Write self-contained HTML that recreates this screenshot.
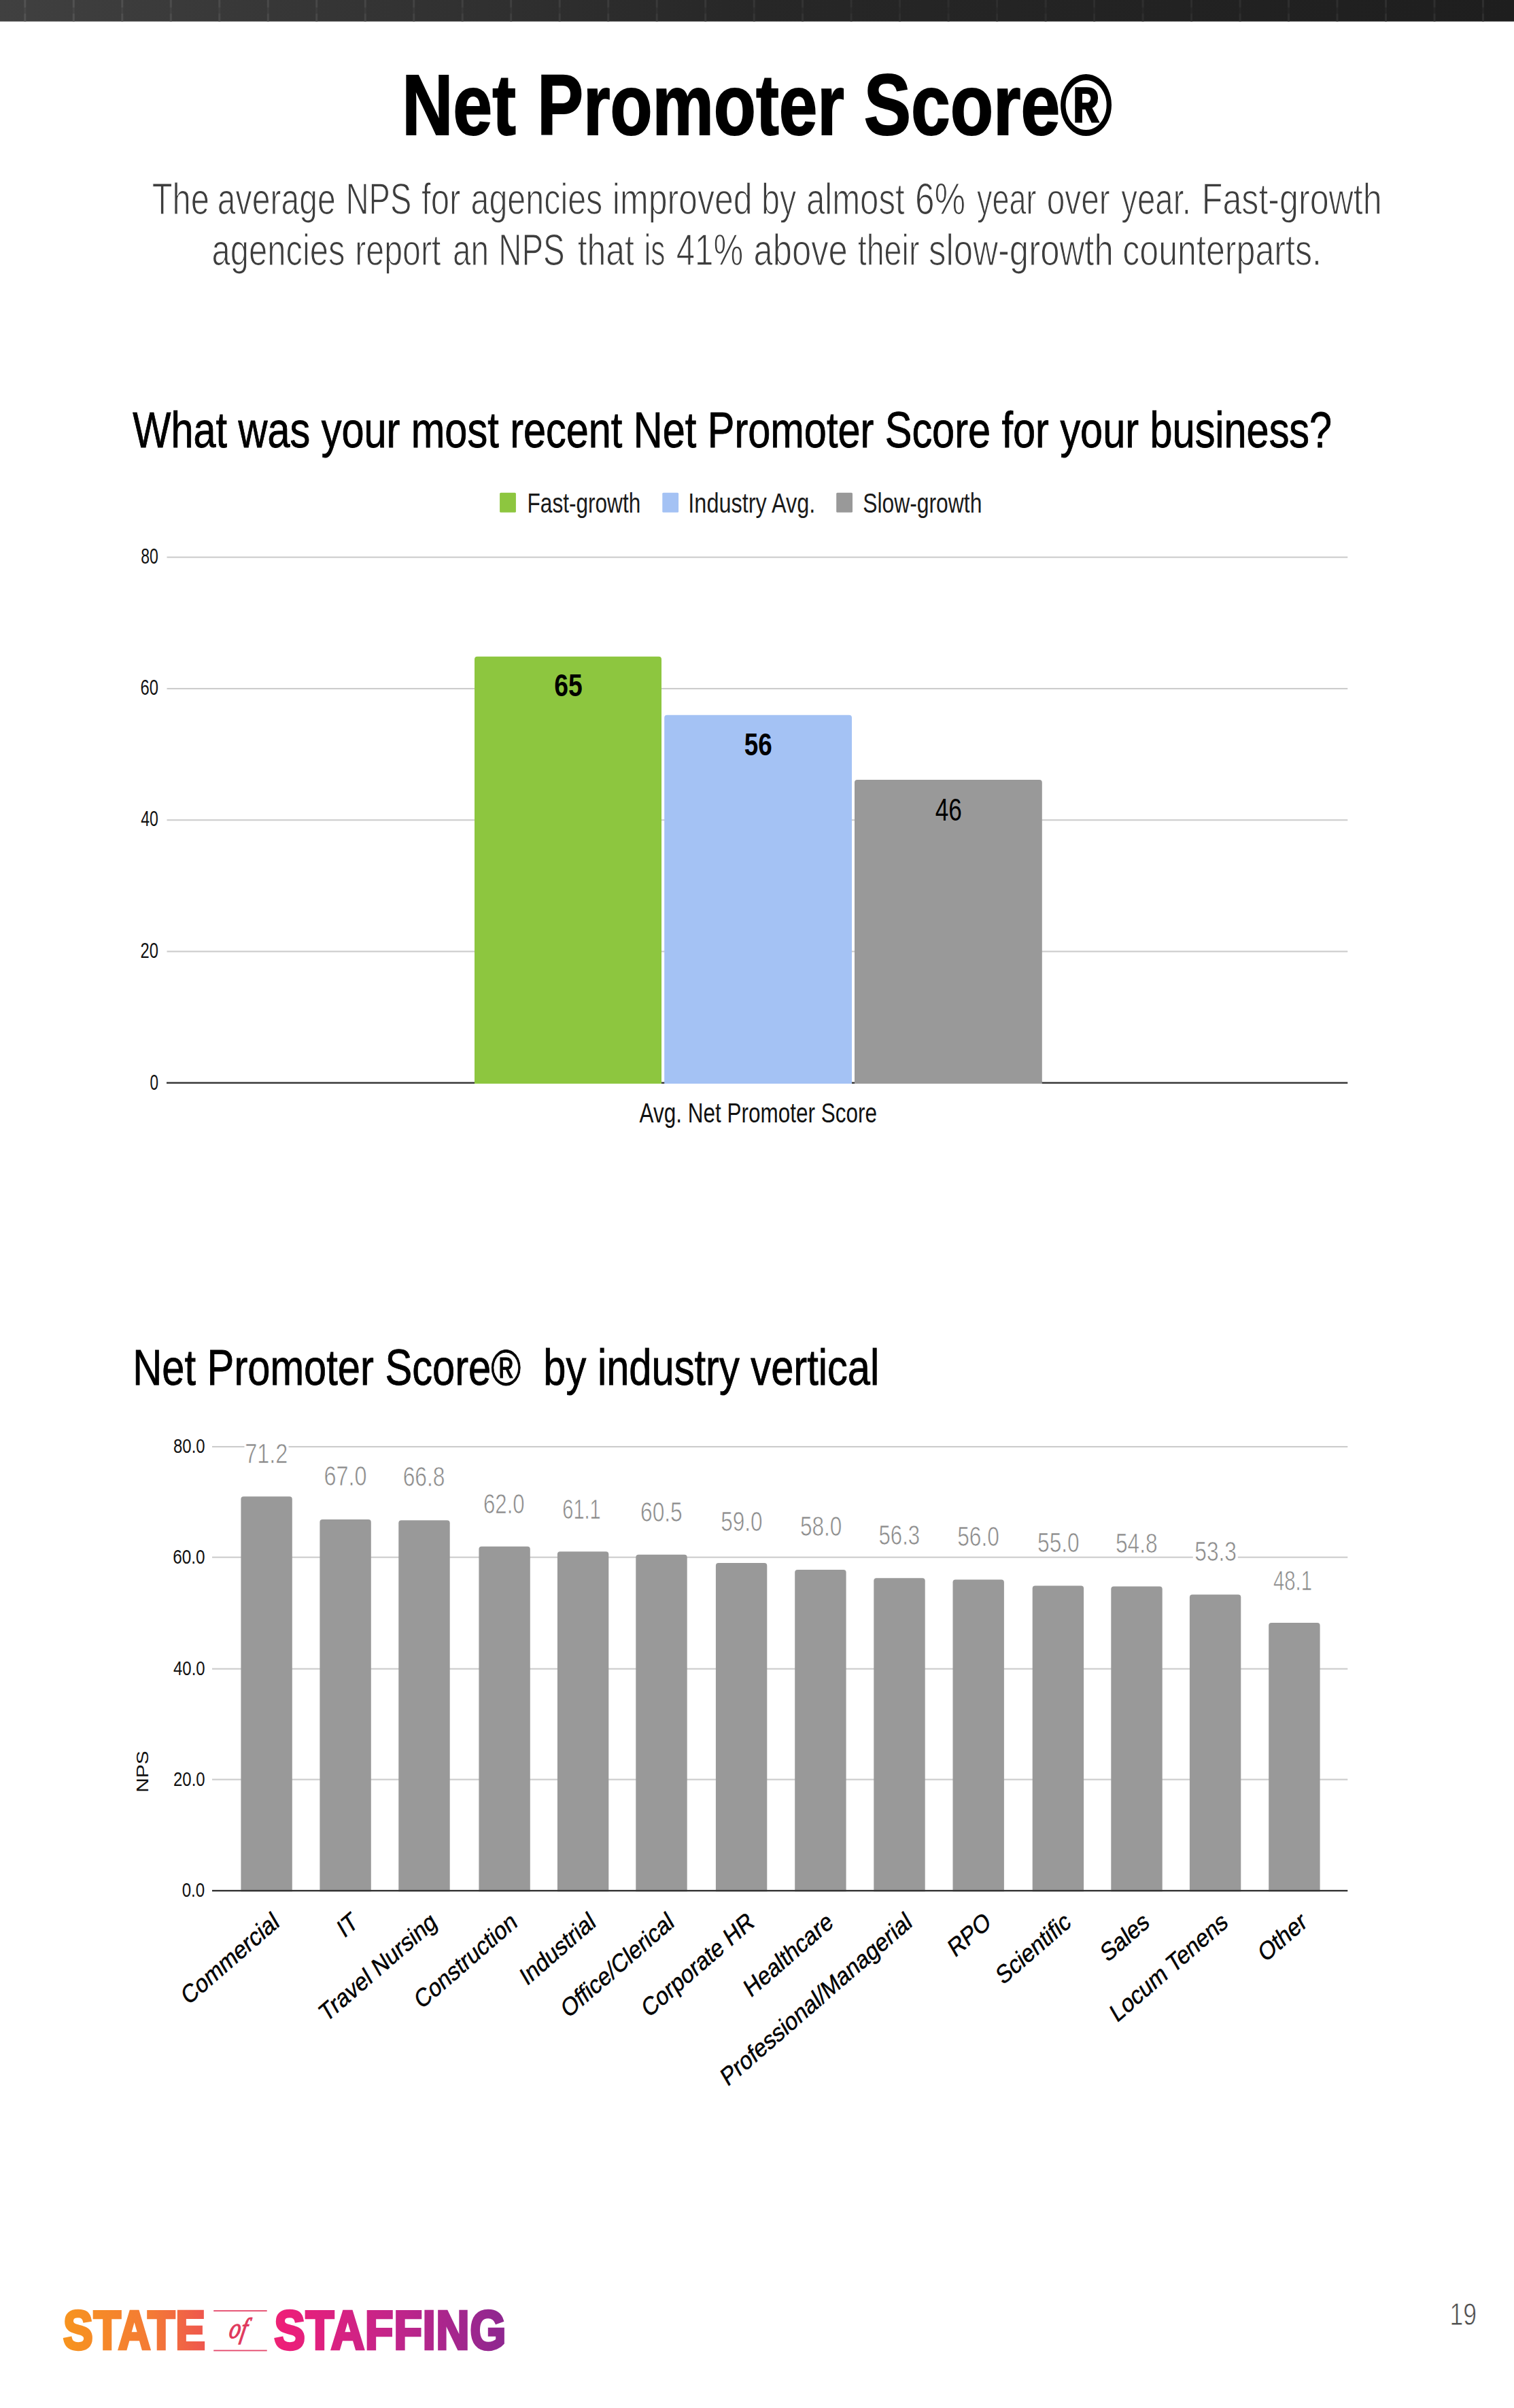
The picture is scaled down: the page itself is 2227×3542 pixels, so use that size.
<!DOCTYPE html>
<html lang="en"><head><meta charset="utf-8"><title>Net Promoter Score</title>
<style>
html,body{margin:0;padding:0;background:#fff}
body{width:2227px;height:3542px;overflow:hidden}
svg{display:block;font-family:"Liberation Sans", sans-serif}
text{white-space:pre}
</style></head><body>
<svg width="2227" height="3542" viewBox="0 0 2227 3542" role="img" aria-label="Net Promoter Score report page">
<defs>
<linearGradient id="bar" x1="0" x2="1" y1="0" y2="0"><stop offset="0" stop-color="#404040"/><stop offset="0.5" stop-color="#272727"/><stop offset="1" stop-color="#1e1e1e"/></linearGradient>
<linearGradient id="logo" gradientUnits="userSpaceOnUse" x1="93" x2="742" y1="0" y2="0">
<stop offset="0" stop-color="#f7941e"/><stop offset="0.2" stop-color="#f47a35"/><stop offset="0.33" stop-color="#ee5450"/><stop offset="0.5" stop-color="#ed1e79"/><stop offset="0.75" stop-color="#c2258a"/><stop offset="1" stop-color="#8e2790"/></linearGradient>
</defs>
<rect width="2227" height="3542" fill="#fff"/>

<rect x="0" y="0" width="2227" height="31.6" fill="url(#bar)"/>
<rect x="35.3" y="0" width="3" height="11" fill="#545454" opacity="0.9"/><rect x="35.3" y="11" width="3" height="9" fill="#545454" opacity="0.4"/><rect x="35.3" y="20" width="3" height="11.6" fill="#545454" opacity="0.9"/><rect x="106.8" y="0" width="3" height="11" fill="#535353" opacity="0.9"/><rect x="106.8" y="11" width="3" height="9" fill="#535353" opacity="0.4"/><rect x="106.8" y="20" width="3" height="11.6" fill="#535353" opacity="0.9"/><rect x="178.3" y="0" width="3" height="11" fill="#515151" opacity="0.9"/><rect x="178.3" y="11" width="3" height="9" fill="#515151" opacity="0.4"/><rect x="178.3" y="20" width="3" height="11.6" fill="#515151" opacity="0.9"/><rect x="249.8" y="0" width="3" height="11" fill="#4f4f4f" opacity="0.9"/><rect x="249.8" y="11" width="3" height="9" fill="#4f4f4f" opacity="0.4"/><rect x="249.8" y="20" width="3" height="11.6" fill="#4f4f4f" opacity="0.9"/><rect x="321.3" y="0" width="3" height="11" fill="#4d4d4d" opacity="0.9"/><rect x="321.3" y="11" width="3" height="9" fill="#4d4d4d" opacity="0.4"/><rect x="321.3" y="20" width="3" height="11.6" fill="#4d4d4d" opacity="0.9"/><rect x="392.8" y="0" width="3" height="11" fill="#4b4b4b" opacity="0.9"/><rect x="392.8" y="11" width="3" height="9" fill="#4b4b4b" opacity="0.4"/><rect x="392.8" y="20" width="3" height="11.6" fill="#4b4b4b" opacity="0.9"/><rect x="464.2" y="0" width="3" height="11" fill="#494949" opacity="0.9"/><rect x="464.2" y="11" width="3" height="9" fill="#494949" opacity="0.4"/><rect x="464.2" y="20" width="3" height="11.6" fill="#494949" opacity="0.9"/><rect x="535.7" y="0" width="3" height="11" fill="#474747" opacity="0.9"/><rect x="535.7" y="11" width="3" height="9" fill="#474747" opacity="0.4"/><rect x="535.7" y="20" width="3" height="11.6" fill="#474747" opacity="0.9"/><rect x="607.2" y="0" width="3" height="11" fill="#454545" opacity="0.9"/><rect x="607.2" y="11" width="3" height="9" fill="#454545" opacity="0.4"/><rect x="607.2" y="20" width="3" height="11.6" fill="#454545" opacity="0.9"/><rect x="678.7" y="0" width="3" height="11" fill="#434343" opacity="0.9"/><rect x="678.7" y="11" width="3" height="9" fill="#434343" opacity="0.4"/><rect x="678.7" y="20" width="3" height="11.6" fill="#434343" opacity="0.9"/><rect x="750.2" y="0" width="3" height="11" fill="#414141" opacity="0.9"/><rect x="750.2" y="11" width="3" height="9" fill="#414141" opacity="0.4"/><rect x="750.2" y="20" width="3" height="11.6" fill="#414141" opacity="0.9"/><rect x="821.7" y="0" width="3" height="11" fill="#3f3f3f" opacity="0.9"/><rect x="821.7" y="11" width="3" height="9" fill="#3f3f3f" opacity="0.4"/><rect x="821.7" y="20" width="3" height="11.6" fill="#3f3f3f" opacity="0.9"/><rect x="893.2" y="0" width="3" height="11" fill="#3d3d3d" opacity="0.9"/><rect x="893.2" y="11" width="3" height="9" fill="#3d3d3d" opacity="0.4"/><rect x="893.2" y="20" width="3" height="11.6" fill="#3d3d3d" opacity="0.9"/><rect x="964.7" y="0" width="3" height="11" fill="#3b3b3b" opacity="0.9"/><rect x="964.7" y="11" width="3" height="9" fill="#3b3b3b" opacity="0.4"/><rect x="964.7" y="20" width="3" height="11.6" fill="#3b3b3b" opacity="0.9"/><rect x="1036.2" y="0" width="3" height="11" fill="#393939" opacity="0.9"/><rect x="1036.2" y="11" width="3" height="9" fill="#393939" opacity="0.4"/><rect x="1036.2" y="20" width="3" height="11.6" fill="#393939" opacity="0.9"/><rect x="1107.7" y="0" width="3" height="11" fill="#373737" opacity="0.9"/><rect x="1107.7" y="11" width="3" height="9" fill="#373737" opacity="0.4"/><rect x="1107.7" y="20" width="3" height="11.6" fill="#373737" opacity="0.9"/><rect x="1179.1" y="0" width="3" height="11" fill="#353535" opacity="0.9"/><rect x="1179.1" y="11" width="3" height="9" fill="#353535" opacity="0.4"/><rect x="1179.1" y="20" width="3" height="11.6" fill="#353535" opacity="0.9"/><rect x="1250.6" y="0" width="3" height="11" fill="#333333" opacity="0.9"/><rect x="1250.6" y="11" width="3" height="9" fill="#333333" opacity="0.4"/><rect x="1250.6" y="20" width="3" height="11.6" fill="#333333" opacity="0.9"/><rect x="1322.1" y="0" width="3" height="11" fill="#313131" opacity="0.9"/><rect x="1322.1" y="11" width="3" height="9" fill="#313131" opacity="0.4"/><rect x="1322.1" y="20" width="3" height="11.6" fill="#313131" opacity="0.9"/><rect x="1393.6" y="0" width="3" height="11" fill="#303030" opacity="0.9"/><rect x="1393.6" y="11" width="3" height="9" fill="#303030" opacity="0.4"/><rect x="1393.6" y="20" width="3" height="11.6" fill="#303030" opacity="0.9"/><rect x="1465.1" y="0" width="3" height="11" fill="#303030" opacity="0.9"/><rect x="1465.1" y="11" width="3" height="9" fill="#303030" opacity="0.4"/><rect x="1465.1" y="20" width="3" height="11.6" fill="#303030" opacity="0.9"/><rect x="1536.6" y="0" width="3" height="11" fill="#303030" opacity="0.9"/><rect x="1536.6" y="11" width="3" height="9" fill="#303030" opacity="0.4"/><rect x="1536.6" y="20" width="3" height="11.6" fill="#303030" opacity="0.9"/><rect x="1608.1" y="0" width="3" height="11" fill="#303030" opacity="0.9"/><rect x="1608.1" y="11" width="3" height="9" fill="#303030" opacity="0.4"/><rect x="1608.1" y="20" width="3" height="11.6" fill="#303030" opacity="0.9"/><rect x="1679.6" y="0" width="3" height="11" fill="#303030" opacity="0.9"/><rect x="1679.6" y="11" width="3" height="9" fill="#303030" opacity="0.4"/><rect x="1679.6" y="20" width="3" height="11.6" fill="#303030" opacity="0.9"/><rect x="1751.1" y="0" width="3" height="11" fill="#303030" opacity="0.9"/><rect x="1751.1" y="11" width="3" height="9" fill="#303030" opacity="0.4"/><rect x="1751.1" y="20" width="3" height="11.6" fill="#303030" opacity="0.9"/><rect x="1822.6" y="0" width="3" height="11" fill="#303030" opacity="0.9"/><rect x="1822.6" y="11" width="3" height="9" fill="#303030" opacity="0.4"/><rect x="1822.6" y="20" width="3" height="11.6" fill="#303030" opacity="0.9"/><rect x="1894.0" y="0" width="3" height="11" fill="#303030" opacity="0.9"/><rect x="1894.0" y="11" width="3" height="9" fill="#303030" opacity="0.4"/><rect x="1894.0" y="20" width="3" height="11.6" fill="#303030" opacity="0.9"/><rect x="1965.5" y="0" width="3" height="11" fill="#303030" opacity="0.9"/><rect x="1965.5" y="11" width="3" height="9" fill="#303030" opacity="0.4"/><rect x="1965.5" y="20" width="3" height="11.6" fill="#303030" opacity="0.9"/><rect x="2037.0" y="0" width="3" height="11" fill="#303030" opacity="0.9"/><rect x="2037.0" y="11" width="3" height="9" fill="#303030" opacity="0.4"/><rect x="2037.0" y="20" width="3" height="11.6" fill="#303030" opacity="0.9"/><rect x="2108.5" y="0" width="3" height="11" fill="#303030" opacity="0.9"/><rect x="2108.5" y="11" width="3" height="9" fill="#303030" opacity="0.4"/><rect x="2108.5" y="20" width="3" height="11.6" fill="#303030" opacity="0.9"/><rect x="2180.0" y="0" width="3" height="11" fill="#303030" opacity="0.9"/><rect x="2180.0" y="11" width="3" height="9" fill="#303030" opacity="0.4"/><rect x="2180.0" y="20" width="3" height="11.6" fill="#303030" opacity="0.9"/>
<rect x="245.5" y="818.6" width="1736.8" height="2.1" fill="#cccccc"/>
<rect x="245.5" y="1011.9" width="1736.8" height="2.1" fill="#cccccc"/>
<rect x="245.5" y="1205.2" width="1736.8" height="2.1" fill="#cccccc"/>
<rect x="245.5" y="1398.5" width="1736.8" height="2.1" fill="#cccccc"/>
<path d="M698.0,1594.0 V969.8 Q698.0,965.8 702.0,965.8 H969.0 Q973.0,965.8 973.0,969.8 V1594.0 Z" fill="#8dc63f"/>
<path d="M977.2,1594.0 V1055.8 Q977.2,1051.8 981.2,1051.8 H1249.0 Q1253.0,1051.8 1253.0,1055.8 V1594.0 Z" fill="#a4c2f4"/>
<path d="M1257.0,1594.0 V1151.0 Q1257.0,1147.0 1261.0,1147.0 H1528.8 Q1532.8,1147.0 1532.8,1151.0 V1594.0 Z" fill="#999999"/>
<rect x="245" y="1591.6" width="1737.3" height="2.4" fill="#333"/>
<rect x="698" y="1590.8" width="275" height="3.2" fill="#8dc63f"/><rect x="977.2" y="1590.8" width="275.8" height="3.2" fill="#a4c2f4"/><rect x="1257" y="1590.8" width="275.8" height="3.2" fill="#999"/>
<rect x="735.1" y="724.8" width="23.8" height="29" rx="1.5" fill="#8dc63f"/>
<rect x="974.3" y="724.8" width="23.8" height="29" rx="1.5" fill="#a4c2f4"/>
<rect x="1230.2" y="724.8" width="23.8" height="29" rx="1.5" fill="#999999"/>
<rect x="312" y="2127.0" width="1670.3" height="2.1" fill="#cccccc"/>
<rect x="312" y="2289.6" width="1670.3" height="2.1" fill="#cccccc"/>
<rect x="312" y="2453.7" width="1670.3" height="2.1" fill="#cccccc"/>
<rect x="312" y="2616.5" width="1670.3" height="2.1" fill="#cccccc"/>
<rect x="359.5" y="2120" width="65" height="14" fill="#fff"/>
<rect x="1754.8" y="2285.6" width="66" height="10" fill="#fff"/>
<path d="M354.4,2782.3 V2205.3 Q354.4,2201.3 358.4,2201.3 H425.8 Q429.8,2201.3 429.8,2205.3 V2782.3 Z" fill="#999999"/>
<path d="M470.4,2782.3 V2239.0 Q470.4,2235.0 474.4,2235.0 H541.8 Q545.8,2235.0 545.8,2239.0 V2782.3 Z" fill="#999999"/>
<path d="M586.3,2782.3 V2240.2 Q586.3,2236.2 590.3,2236.2 H657.7 Q661.7,2236.2 661.7,2240.2 V2782.3 Z" fill="#999999"/>
<path d="M704.4,2782.3 V2278.8 Q704.4,2274.8 708.4,2274.8 H775.8 Q779.8,2274.8 779.8,2278.8 V2782.3 Z" fill="#999999"/>
<path d="M819.9,2782.3 V2286.3 Q819.9,2282.3 823.9,2282.3 H891.3 Q895.3,2282.3 895.3,2286.3 V2782.3 Z" fill="#999999"/>
<path d="M935.3,2782.3 V2290.8 Q935.3,2286.8 939.3,2286.8 H1006.7 Q1010.7,2286.8 1010.7,2290.8 V2782.3 Z" fill="#999999"/>
<path d="M1052.9,2782.3 V2303.0 Q1052.9,2299.0 1056.9,2299.0 H1124.3 Q1128.3,2299.0 1128.3,2303.0 V2782.3 Z" fill="#999999"/>
<path d="M1169.2,2782.3 V2312.9 Q1169.2,2308.9 1173.2,2308.9 H1240.6 Q1244.6,2308.9 1244.6,2312.9 V2782.3 Z" fill="#999999"/>
<path d="M1285.3,2782.3 V2325.2 Q1285.3,2321.2 1289.3,2321.2 H1356.7 Q1360.7,2321.2 1360.7,2325.2 V2782.3 Z" fill="#999999"/>
<path d="M1401.5,2782.3 V2327.4 Q1401.5,2323.4 1405.5,2323.4 H1472.9 Q1476.9,2323.4 1476.9,2327.4 V2782.3 Z" fill="#999999"/>
<path d="M1518.7,2782.3 V2336.6 Q1518.7,2332.6 1522.7,2332.6 H1590.1 Q1594.1,2332.6 1594.1,2336.6 V2782.3 Z" fill="#999999"/>
<path d="M1634.3,2782.3 V2337.6 Q1634.3,2333.6 1638.3,2333.6 H1705.7 Q1709.7,2333.6 1709.7,2337.6 V2782.3 Z" fill="#999999"/>
<path d="M1749.9,2782.3 V2349.5 Q1749.9,2345.5 1753.9,2345.5 H1821.3 Q1825.3,2345.5 1825.3,2349.5 V2782.3 Z" fill="#999999"/>
<path d="M1866.2,2782.3 V2391.1 Q1866.2,2387.1 1870.2,2387.1 H1937.6 Q1941.6,2387.1 1941.6,2391.1 V2782.3 Z" fill="#999999"/>
<rect x="312" y="2779.9" width="1670.3" height="2.4" fill="#333"/>
<text transform="translate(218.3,2606) scale(0.82,1) rotate(-90)" text-anchor="middle" font-size="30" fill="#111">NPS</text>
<text transform="translate(412.6,2832.1) scale(0.82,1) rotate(-35.5)" text-anchor="end" font-size="38.2" fill="#000" stroke="#000" stroke-width="0.5">Commercial</text>
<text transform="translate(528.6,2832.1) scale(0.82,1) rotate(-35.5)" text-anchor="end" font-size="38.2" fill="#000" stroke="#000" stroke-width="0.5">IT</text>
<text transform="translate(644.5,2832.1) scale(0.82,1) rotate(-35.5)" text-anchor="end" font-size="38.2" fill="#000" stroke="#000" stroke-width="0.5">Travel Nursing</text>
<text transform="translate(762.6,2832.1) scale(0.82,1) rotate(-35.5)" text-anchor="end" font-size="38.2" fill="#000" stroke="#000" stroke-width="0.5">Construction</text>
<text transform="translate(878.1,2832.1) scale(0.82,1) rotate(-35.5)" text-anchor="end" font-size="38.2" fill="#000" stroke="#000" stroke-width="0.5">Industrial</text>
<text transform="translate(993.5,2832.1) scale(0.82,1) rotate(-35.5)" text-anchor="end" font-size="38.2" fill="#000" stroke="#000" stroke-width="0.5">Office/Clerical</text>
<text transform="translate(1111.1,2832.1) scale(0.82,1) rotate(-35.5)" text-anchor="end" font-size="38.2" fill="#000" stroke="#000" stroke-width="0.5">Corporate HR</text>
<text transform="translate(1227.4,2832.1) scale(0.82,1) rotate(-35.5)" text-anchor="end" font-size="38.2" fill="#000" stroke="#000" stroke-width="0.5">Healthcare</text>
<text transform="translate(1343.5,2832.1) scale(0.82,1) rotate(-35.5)" text-anchor="end" font-size="38.2" fill="#000" stroke="#000" stroke-width="0.5">Professional/Managerial</text>
<text transform="translate(1459.7,2832.1) scale(0.82,1) rotate(-35.5)" text-anchor="end" font-size="38.2" fill="#000" stroke="#000" stroke-width="0.5">RPO</text>
<text transform="translate(1576.9,2832.1) scale(0.82,1) rotate(-35.5)" text-anchor="end" font-size="38.2" fill="#000" stroke="#000" stroke-width="0.5">Scientific</text>
<text transform="translate(1692.5,2832.1) scale(0.82,1) rotate(-35.5)" text-anchor="end" font-size="38.2" fill="#000" stroke="#000" stroke-width="0.5">Sales</text>
<text transform="translate(1808.1,2832.1) scale(0.82,1) rotate(-35.5)" text-anchor="end" font-size="38.2" fill="#000" stroke="#000" stroke-width="0.5">Locum Tenens</text>
<text transform="translate(1924.4,2832.1) scale(0.82,1) rotate(-35.5)" text-anchor="end" font-size="38.2" fill="#000" stroke="#000" stroke-width="0.5">Other</text>
<text transform="translate(591.24,198.10) scale(0.8224,1)" font-size="126.5" font-weight="bold" font-style="normal" fill="#000"  stroke="#000" stroke-width="2" stroke-linejoin="miter">Net </text><text transform="translate(790.18,198.10) scale(0.8031,1)" font-size="126.5" font-weight="bold" font-style="normal" fill="#000"  stroke="#000" stroke-width="2" stroke-linejoin="miter">Promoter </text><text transform="translate(1270.74,198.10) scale(0.8204,1)" font-size="126.5" font-weight="bold" font-style="normal" fill="#000"  stroke="#000" stroke-width="2" stroke-linejoin="miter">Score®</text><text transform="translate(223.79,315.10) scale(0.7452,1)" font-size="65.5" font-weight="normal" font-style="normal" fill="#3d3d3d"  stroke="#fff" stroke-width="1.25">The </text><text transform="translate(319.84,315.10) scale(0.7343,1)" font-size="65.5" font-weight="normal" font-style="normal" fill="#3d3d3d"  stroke="#fff" stroke-width="1.25">average </text><text transform="translate(508.67,315.10) scale(0.7173,1)" font-size="65.5" font-weight="normal" font-style="normal" fill="#3d3d3d"  stroke="#fff" stroke-width="1.25">NPS </text><text transform="translate(620.08,315.10) scale(0.7505,1)" font-size="65.5" font-weight="normal" font-style="normal" fill="#3d3d3d"  stroke="#fff" stroke-width="1.25">for </text><text transform="translate(692.52,315.10) scale(0.7390,1)" font-size="65.5" font-weight="normal" font-style="normal" fill="#3d3d3d"  stroke="#fff" stroke-width="1.25">agencies </text><text transform="translate(900.87,315.10) scale(0.7638,1)" font-size="65.5" font-weight="normal" font-style="normal" fill="#3d3d3d"  stroke="#fff" stroke-width="1.25">improved </text><text transform="translate(1119.98,315.10) scale(0.7404,1)" font-size="65.5" font-weight="normal" font-style="normal" fill="#3d3d3d"  stroke="#fff" stroke-width="1.25">by </text><text transform="translate(1185.88,315.10) scale(0.7505,1)" font-size="65.5" font-weight="normal" font-style="normal" fill="#3d3d3d"  stroke="#fff" stroke-width="1.25">almost </text><text transform="translate(1345.96,315.10) scale(0.7829,1)" font-size="65.5" font-weight="normal" font-style="normal" fill="#3d3d3d"  stroke="#fff" stroke-width="1.25">6% </text><text transform="translate(1437.07,315.10) scale(0.6854,1)" font-size="65.5" font-weight="normal" font-style="normal" fill="#3d3d3d"  stroke="#fff" stroke-width="1.25">year </text><text transform="translate(1539.75,315.10) scale(0.7302,1)" font-size="65.5" font-weight="normal" font-style="normal" fill="#3d3d3d"  stroke="#fff" stroke-width="1.25">over </text><text transform="translate(1649.25,315.10) scale(0.7236,1)" font-size="65.5" font-weight="normal" font-style="normal" fill="#3d3d3d"  stroke="#fff" stroke-width="1.25">year. </text><text transform="translate(1767.79,315.10) scale(0.7659,1)" font-size="65.5" font-weight="normal" font-style="normal" fill="#3d3d3d"  stroke="#fff" stroke-width="1.25">Fast-growth</text><text transform="translate(311.59,389.70) scale(0.7472,1)" font-size="65.5" font-weight="normal" font-style="normal" fill="#3d3d3d"  stroke="#fff" stroke-width="1.25">agencies </text><text transform="translate(522.18,389.70) scale(0.7385,1)" font-size="65.5" font-weight="normal" font-style="normal" fill="#3d3d3d"  stroke="#fff" stroke-width="1.25">report </text><text transform="translate(665.96,389.70) scale(0.7290,1)" font-size="65.5" font-weight="normal" font-style="normal" fill="#3d3d3d"  stroke="#fff" stroke-width="1.25">an </text><text transform="translate(733.23,389.70) scale(0.7237,1)" font-size="65.5" font-weight="normal" font-style="normal" fill="#3d3d3d"  stroke="#fff" stroke-width="1.25">NPS </text><text transform="translate(849.66,389.70) scale(0.7625,1)" font-size="65.5" font-weight="normal" font-style="normal" fill="#3d3d3d"  stroke="#fff" stroke-width="1.25">that </text><text transform="translate(947.81,389.70) scale(0.6465,1)" font-size="65.5" font-weight="normal" font-style="normal" fill="#3d3d3d"  stroke="#fff" stroke-width="1.25">is </text><text transform="translate(994.73,389.70) scale(0.7515,1)" font-size="65.5" font-weight="normal" font-style="normal" fill="#3d3d3d"  stroke="#fff" stroke-width="1.25">41% </text><text transform="translate(1108.59,389.70) scale(0.7742,1)" font-size="65.5" font-weight="normal" font-style="normal" fill="#3d3d3d"  stroke="#fff" stroke-width="1.25">above </text><text transform="translate(1261.74,389.70) scale(0.7119,1)" font-size="65.5" font-weight="normal" font-style="normal" fill="#3d3d3d"  stroke="#fff" stroke-width="1.25">their </text><text transform="translate(1366.06,389.70) scale(0.7775,1)" font-size="65.5" font-weight="normal" font-style="normal" fill="#3d3d3d"  stroke="#fff" stroke-width="1.25">slow-growth </text><text transform="translate(1651.22,389.70) scale(0.7658,1)" font-size="65.5" font-weight="normal" font-style="normal" fill="#3d3d3d"  stroke="#fff" stroke-width="1.25">counterparts.</text><text transform="translate(195.30,658.20) scale(0.7926,1)" font-size="75" font-weight="normal" font-style="normal" fill="#000"  stroke="#000" stroke-width="0.9" stroke-linejoin="miter">What was your most recent Net Promoter Score for your business?</text><text transform="translate(775.59,753.60) scale(0.7701,1)" font-size="41" font-weight="normal" font-style="normal" fill="#1a1a1a" >Fast-growth</text><text transform="translate(1012.33,753.60) scale(0.7913,1)" font-size="41" font-weight="normal" font-style="normal" fill="#1a1a1a" >Industry Avg.</text><text transform="translate(1269.15,753.60) scale(0.7769,1)" font-size="41" font-weight="normal" font-style="normal" fill="#1a1a1a" >Slow-growth</text><text transform="translate(207.26,828.80) scale(0.7364,1)" font-size="31.3" font-weight="normal" font-style="normal" fill="#111" >80</text><text transform="translate(206.48,1022.10) scale(0.7594,1)" font-size="31.3" font-weight="normal" font-style="normal" fill="#111" >60</text><text transform="translate(207.26,1215.40) scale(0.7364,1)" font-size="31.3" font-weight="normal" font-style="normal" fill="#111" >40</text><text transform="translate(206.48,1408.70) scale(0.7594,1)" font-size="31.3" font-weight="normal" font-style="normal" fill="#111" >20</text><text transform="translate(220.48,1603.10) scale(0.7200,1)" font-size="31.3" font-weight="normal" font-style="normal" fill="#111" >0</text><text transform="translate(815.36,1024.20) scale(0.8191,1)" font-size="45.5" font-weight="bold" font-style="normal" fill="#000" >65</text><text transform="translate(1094.78,1111.20) scale(0.8106,1)" font-size="45.5" font-weight="bold" font-style="normal" fill="#000" >56</text><text transform="translate(1375.63,1207.40) scale(0.7729,1)" font-size="45.5" font-weight="normal" font-style="normal" fill="#000" >46</text><text transform="translate(940.60,1650.50) scale(0.7644,1)" font-size="41.2" font-weight="normal" font-style="normal" fill="#111" >Avg. Net Promoter Score</text><text transform="translate(195.23,2037.30) scale(0.7954,1)" font-size="75" font-weight="normal" font-style="normal" fill="#000"  stroke="#000" stroke-width="0.9" stroke-linejoin="miter">Net Promoter Score® &#160;by industry vertical</text><text transform="translate(255.08,2137.20) scale(0.8241,1)" font-size="29" font-weight="normal" font-style="normal" fill="#111" >80.0</text><text transform="translate(254.22,2299.80) scale(0.8396,1)" font-size="29" font-weight="normal" font-style="normal" fill="#111" >60.0</text><text transform="translate(255.08,2463.90) scale(0.8241,1)" font-size="29" font-weight="normal" font-style="normal" fill="#111" >40.0</text><text transform="translate(255.08,2626.70) scale(0.8241,1)" font-size="29" font-weight="normal" font-style="normal" fill="#111" >20.0</text><text transform="translate(267.67,2790.30) scale(0.8316,1)" font-size="29" font-weight="normal" font-style="normal" fill="#111" >0.0</text><text transform="translate(360.24,2151.60) scale(0.7915,1)" font-size="41" font-weight="normal" font-style="normal" fill="#8a8a8a"  stroke="#fff" stroke-width="0.7">71.2</text><text transform="translate(476.44,2185.40) scale(0.7902,1)" font-size="41" font-weight="normal" font-style="normal" fill="#8a8a8a"  stroke="#fff" stroke-width="0.7">67.0</text><text transform="translate(592.68,2186.00) scale(0.7729,1)" font-size="41" font-weight="normal" font-style="normal" fill="#8a8a8a"  stroke="#fff" stroke-width="0.7">66.8</text><text transform="translate(711.01,2226.30) scale(0.7596,1)" font-size="41" font-weight="normal" font-style="normal" fill="#8a8a8a"  stroke="#fff" stroke-width="0.7">62.0</text><text transform="translate(827.34,2233.90) scale(0.7065,1)" font-size="41" font-weight="normal" font-style="normal" fill="#8a8a8a"  stroke="#fff" stroke-width="0.7">61.1</text><text transform="translate(942.08,2237.70) scale(0.7729,1)" font-size="41" font-weight="normal" font-style="normal" fill="#8a8a8a"  stroke="#fff" stroke-width="0.7">60.5</text><text transform="translate(1060.29,2251.60) scale(0.7689,1)" font-size="41" font-weight="normal" font-style="normal" fill="#8a8a8a"  stroke="#fff" stroke-width="0.7">59.0</text><text transform="translate(1176.89,2258.50) scale(0.7689,1)" font-size="41" font-weight="normal" font-style="normal" fill="#8a8a8a"  stroke="#fff" stroke-width="0.7">58.0</text><text transform="translate(1292.51,2272.40) scale(0.7596,1)" font-size="41" font-weight="normal" font-style="normal" fill="#8a8a8a"  stroke="#fff" stroke-width="0.7">56.3</text><text transform="translate(1408.18,2274.30) scale(0.7729,1)" font-size="41" font-weight="normal" font-style="normal" fill="#8a8a8a"  stroke="#fff" stroke-width="0.7">56.0</text><text transform="translate(1526.08,2283.20) scale(0.7729,1)" font-size="41" font-weight="normal" font-style="normal" fill="#8a8a8a"  stroke="#fff" stroke-width="0.7">55.0</text><text transform="translate(1640.98,2284.20) scale(0.7729,1)" font-size="41" font-weight="normal" font-style="normal" fill="#8a8a8a"  stroke="#fff" stroke-width="0.7">54.8</text><text transform="translate(1757.28,2296.40) scale(0.7729,1)" font-size="41" font-weight="normal" font-style="normal" fill="#8a8a8a"  stroke="#fff" stroke-width="0.7">53.3</text><text transform="translate(1873.04,2339.30) scale(0.7143,1)" font-size="41" font-weight="normal" font-style="normal" fill="#8a8a8a"  stroke="#fff" stroke-width="0.7">48.1</text><text transform="translate(2132.59,3420.10) scale(0.7760,1)" font-size="45.8" font-weight="normal" font-style="normal" fill="#4d4d4d"  stroke="#fff" stroke-width="0.8">19</text>
<linearGradient id="lgSTATE" gradientUnits="userSpaceOnUse" x1="-0.1" x2="795.5" y1="0" y2="0"><stop offset="0" stop-color="#f7941e"/><stop offset="0.2" stop-color="#f47a35"/><stop offset="0.33" stop-color="#ee5450"/><stop offset="0.5" stop-color="#ed1e79"/><stop offset="0.75" stop-color="#c2258a"/><stop offset="1" stop-color="#8e2790"/></linearGradient><text transform="translate(93.10,3454.80) scale(0.8157,1)" font-weight="bold" font-size="80.3" letter-spacing="1.2" fill="url(#lgSTATE)" stroke="url(#lgSTATE)" stroke-width="4.4" stroke-linejoin="miter">STATE</text>
<linearGradient id="lgSTAFFING" gradientUnits="userSpaceOnUse" x1="-368.3" x2="401.2" y1="0" y2="0"><stop offset="0" stop-color="#f7941e"/><stop offset="0.2" stop-color="#f47a35"/><stop offset="0.33" stop-color="#ee5450"/><stop offset="0.5" stop-color="#ed1e79"/><stop offset="0.75" stop-color="#c2258a"/><stop offset="1" stop-color="#8e2790"/></linearGradient><text transform="translate(403.60,3454.80) scale(0.8434,1)" font-weight="bold" font-size="80.3" letter-spacing="1.2" fill="url(#lgSTAFFING)" stroke="url(#lgSTAFFING)" stroke-width="4.4" stroke-linejoin="miter">STAFFING</text>
<rect x="314.2" y="3398.2" width="78.5" height="1.8" fill="#e4476a"/><rect x="314.2" y="3456.6" width="78.5" height="1.8" fill="#e4476a"/>
<text transform="translate(335.6,3438.6) scale(0.78,1) skewX(-14)" font-family='"Liberation Serif", serif' font-style="italic" font-size="42.5" fill="#e0395d" stroke="#e0395d" stroke-width="1.3">of</text>

</svg></body></html>
